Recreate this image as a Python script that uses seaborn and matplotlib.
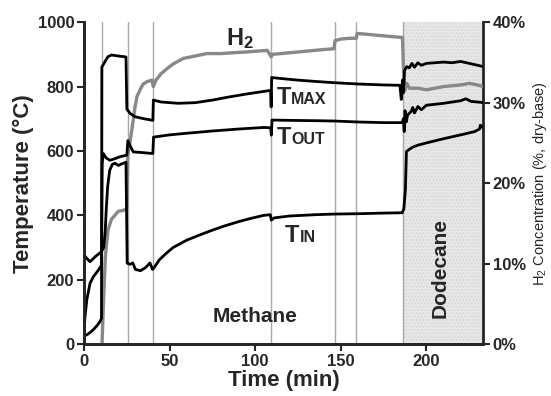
import matplotlib
matplotlib.use('Agg')
import matplotlib.pyplot as plt
import seaborn as sns
from matplotlib.ticker import FuncFormatter

# time (min) / temperature (°C) for each thermocouple
t_in = [0, 1, 3.5, 6.4, 9, 10.2, 11.5, 12.4, 13, 13.8, 15, 16.5, 18, 20, 22, 24.5, 25.2,
        25.6, 27, 28.5, 30, 33, 36, 38.5, 40, 41, 44, 48, 52, 60, 68, 75, 82, 90, 97, 105,
        108.8, 109.4, 111, 120, 135, 146, 160, 175, 185.8, 186.8, 187.7, 188.3, 190, 192,
        195, 200, 210, 220, 228, 231, 231.5, 233]
temp_in = [278, 270, 256, 271, 282, 287, 300, 354, 420, 490, 540, 558, 562, 555, 560, 565, 252,
           250, 248, 252, 232, 228, 238, 252, 232, 238, 262, 282, 300, 323, 340, 354, 367, 380, 390, 400,
           402, 385, 392, 398, 402, 404, 405, 407, 408, 420, 480, 598, 605, 612,
           618, 625, 638, 650, 660, 668, 680, 672]

t_out = [0, 0.5, 1.6, 3.5, 5.4, 8.4, 10.2, 10.6, 11.3, 13, 15.2, 18, 21, 25, 25.6, 27, 28.8,
         34, 40.2, 40.6, 50, 60, 75, 90, 105, 109, 109.4, 109.8, 120, 135, 146, 160, 175,
         185.8, 186.5, 187, 187.5, 188.2, 189, 191, 192, 193, 195, 197, 200, 205, 210, 220,
         223, 226, 230, 233]
temp_out = [40, 80, 137, 189, 209, 230, 245, 560, 592, 578, 571, 576, 582, 587, 632, 615, 597,
            595, 592, 643, 650, 655, 662, 668, 673, 672, 649, 696, 695, 694, 693, 690, 688,
            688, 700, 660, 725, 690, 712, 722, 735, 718, 738, 728, 742, 745, 748, 756,
            762, 754, 752, 750]

t_max = [0, 2, 4, 6, 8, 9.5, 10.2, 10.4, 11.2, 12.5, 14, 16, 20, 24.5, 25, 27, 30, 35, 40.2,
         40.5, 45, 55, 65, 75, 85, 95, 105, 109, 109.3, 109.6, 115, 125, 135, 146, 160, 175,
         184.5, 185.3, 186, 186.5, 187.2, 188.5, 190, 191.5, 193, 195, 197, 200, 205, 210,
         215, 220, 225, 230, 233]
temp_max = [25, 30, 38, 48, 60, 72, 80, 860, 868, 880, 893, 898, 895, 892, 730, 716, 706, 700, 695,
            758, 752, 748, 750, 758, 768, 777, 785, 788, 737, 828, 825, 820, 816, 812, 808, 805,
            804, 760, 820, 780, 850, 862, 858, 872, 860, 874, 866, 872, 874, 876,
            874, 878, 872, 866, 862]

# H2 concentration (%, dry-base)
t_h2 = [10.5, 11.5, 12.5, 14, 16, 18, 20, 22.5, 25, 25.6, 27, 28.5, 29.8, 31, 32.7, 34.5,
        36.7, 39.6, 40.5, 42, 45, 48.3, 52, 58, 65, 71.7, 80, 87, 95, 107, 109.3, 110, 120,
        130, 140, 146, 146.6, 150, 155, 159, 159.5, 165, 170, 175, 180, 186, 186.6, 187.3,
        188.5, 190, 195, 200, 205, 210, 215, 220, 225, 230, 233]
h2 = [0, 6, 11, 14.2, 15.5, 16, 16.5, 16.6, 16.8, 23.5, 25.3, 27.5, 29.5, 30.8, 31.6, 32.3,
      32.6, 32.8, 32.0, 32.8, 33.6, 34.2, 34.8, 35.5, 35.8, 36.1, 36.1, 36.2, 36.3, 36.5, 35.7, 36.0, 36.2,
      36.4, 36.6, 36.7, 37.7, 37.9, 38.0, 38.0, 38.6, 38.5, 38.4, 38.3, 38.2, 38.1, 34.0, 31.5,
      32.4, 31.8, 31.8, 31.6, 31.8, 32.0, 32.1, 32.2, 32.4, 32.2, 32.0]

# feed changes and dodecane period
switch_times = [10.3, 25.5, 40.5, 109.4, 146.4, 159, 186.4]
dodecane_start, t_end = 186.4, 233

sns.set_style('ticks')
plt.rcParams['font.family'] = ['Liberation Sans', 'DejaVu Sans']
plt.rcParams['mathtext.fontset'] = 'custom'
plt.rcParams['mathtext.rm'] = 'Liberation Sans'
plt.rcParams['mathtext.bf'] = 'Liberation Sans:bold'

fig = plt.figure(figsize=(5.51, 3.96), dpi=100)
ax = fig.add_axes([0.1525, 0.131, 0.724, 0.813])
ax2 = ax.twinx()
ax.set_zorder(ax2.get_zorder() + 1)
ax.patch.set_visible(False)

ax2.axvspan(dodecane_start, t_end, facecolor='#e8e8e8', edgecolor='#d8d8d8', hatch='.....', lw=0, zorder=0)
for s in switch_times:
    ax2.axvline(s, color='#a8a8a8', lw=1, zorder=1)

sns.lineplot(x=t_h2, y=h2, ax=ax2, color='#888888', lw=2.4, estimator=None, sort=False, zorder=3)
for tt, vv in [(t_max, temp_max), (t_out, temp_out), (t_in, temp_in)]:
    sns.lineplot(x=tt, y=vv, ax=ax, color='black', lw=2, estimator=None, sort=False)

ax.set_xlim(0, t_end)
ax.set_ylim(0, 1000)
ax2.set_ylim(0, 40)
ax.set_xticks([0, 50, 100, 150, 200])
ax.set_yticks(range(0, 1001, 200))
ax2.set_yticks([0, 10, 20, 30, 40])
ax2.yaxis.set_major_formatter(FuncFormatter(lambda v, p: f'{v:.0f}%'))

for a in (ax, ax2):
    a.spines['top'].set_visible(False)
    for sp in ('left', 'bottom', 'right'):
        a.spines[sp].set_linewidth(2)
    a.tick_params(direction='out', length=5, width=1.5, labelsize=12, pad=2)
ax.spines['right'].set_visible(False)
for lab in ax.get_xticklabels() + ax.get_yticklabels() + ax2.get_yticklabels():
    lab.set_fontweight('bold')

ax.set_xlabel('Time (min)', fontsize=16, fontweight='bold', labelpad=1)
ax.set_ylabel('Temperature (°C)', fontsize=16, fontweight='bold', labelpad=3)
ax2.set_ylabel(r'H$_2$ Concentration (%, dry-base)', fontsize=10.5, labelpad=4)

ax.text(91, 948, r'$\mathbf{H_2}$', fontsize=17, ha='center', va='center')
for x0, y0, sub in [(112.5, 745, 'MAX'), (112.5, 621, 'OUT'), (117.5, 318, 'IN')]:
    ax.text(x0, y0, 'T', fontsize=17, fontweight='bold', ha='left', va='baseline')
    ax.annotate(sub, xy=(x0, y0), xytext=(10.5, 0), textcoords='offset points',
                fontsize=11.5, fontweight='bold', ha='left', va='baseline')
ax.text(100, 87, 'Methane', fontsize=15, fontweight='bold', ha='center', va='center')
ax.text(208, 236, 'Dodecane', fontsize=15, fontweight='bold', ha='center', va='center', rotation=90)

fig.savefig('out.png', dpi=100)
